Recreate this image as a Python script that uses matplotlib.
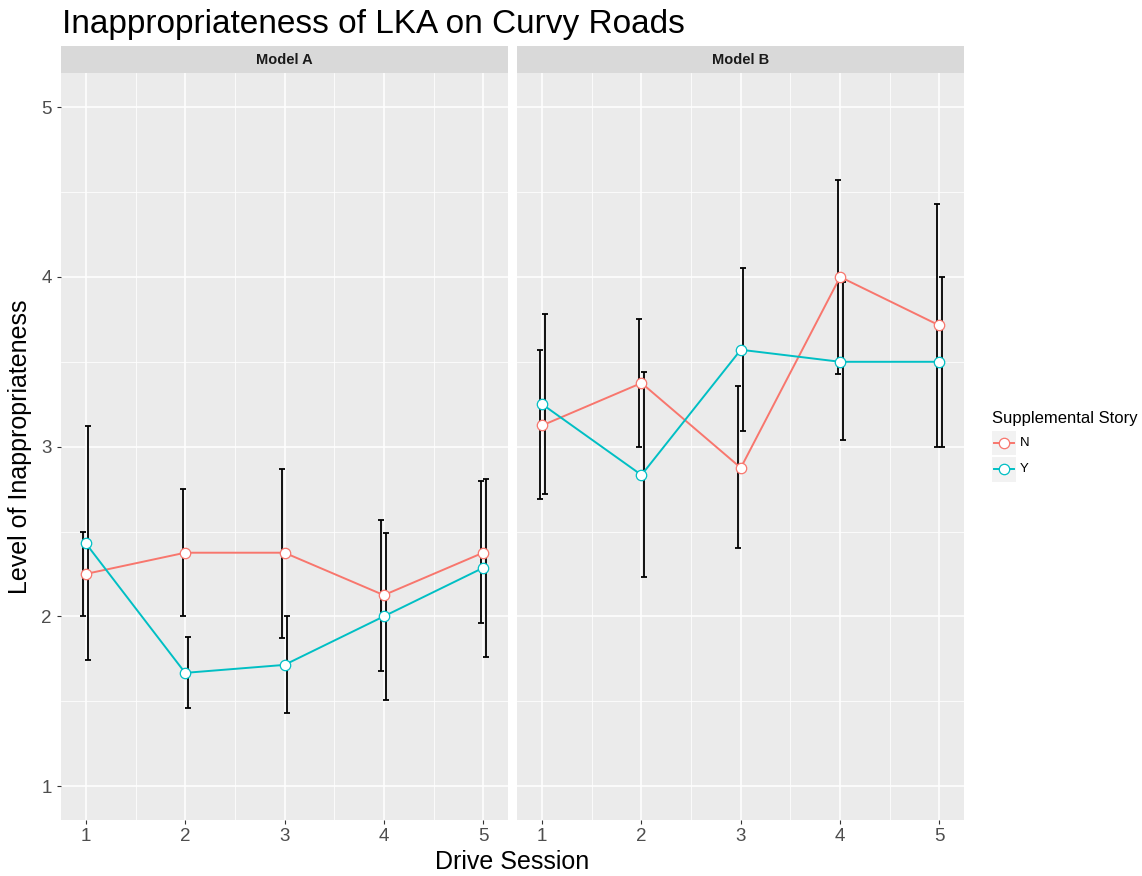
import matplotlib
matplotlib.use('Agg')
import matplotlib.pyplot as plt
from matplotlib.patches import Rectangle
from matplotlib.lines import Line2D
import numpy as np

plt.rcParams['font.family'] = ['Liberation Sans', 'DejaVu Sans']

# ---------------- data ----------------
sessions = [1, 2, 3, 4, 5]
models = ['Model A', 'Model B']
groups = ['N', 'Y']
group_colors = ['#F8766D', '#00BFC4']

a_n_mean = [2.25, 2.375, 2.375, 2.125, 2.375]
a_n_low = [2.0, 2.0, 1.875, 1.68, 1.96]
a_n_high = [2.5, 2.75, 2.87, 2.57, 2.80]
a_y_mean = [2.43, 1.667, 1.714, 2.0, 2.286]
a_y_low = [1.74, 1.46, 1.43, 1.51, 1.76]
a_y_high = [3.12, 1.88, 2.0, 2.49, 2.81]

b_n_mean = [3.125, 3.375, 2.875, 4.0, 3.714]
b_n_low = [2.69, 3.0, 2.40, 3.43, 3.0]
b_n_high = [3.57, 3.75, 3.36, 4.57, 4.43]
b_y_mean = [3.25, 2.833, 3.571, 3.5, 3.5]
b_y_low = [2.72, 2.23, 3.09, 3.04, 3.0]
b_y_high = [3.78, 3.44, 4.05, 3.97, 4.0]

y_ticks = [1, 2, 3, 4, 5]
title = 'Inappropriateness of LKA on Curvy Roads'
x_label = 'Drive Session'
y_label = 'Level of Inappropriateness'
legend_title = 'Supplemental Story'

panel_data = {
    'Model A': {'N': (a_n_mean, a_n_low, a_n_high), 'Y': (a_y_mean, a_y_low, a_y_high)},
    'Model B': {'N': (b_n_mean, b_n_low, b_n_high), 'Y': (b_y_mean, b_y_low, b_y_high)},
}

# ---------------- layout ----------------
W, H = 1142, 876
fig = plt.figure(figsize=(W / 100, H / 100), dpi=100)

def fx(px):
    return px / W

def fy(py):
    return 1 - py / H

panels_px = [(61, 508), (517.3, 964.3)]
p_top, p_bottom, s_top = 73.3, 820, 45.7
dodge = [-0.025, 0.025]

for i, (model, (l, r)) in enumerate(zip(models, panels_px)):
    ax = fig.add_axes([fx(l), fy(p_bottom), (r - l) / W, (p_bottom - p_top) / H])
    ax.set_facecolor('#EBEBEB')
    for s in ax.spines.values():
        s.set_visible(False)
    ax.set_xlim(0.75, 5.25)
    ax.set_ylim(0.8, 5.2)
    ax.set_xticks(sessions)
    ax.set_xticks([1.5, 2.5, 3.5, 4.5], minor=True)
    ax.set_yticks(y_ticks)
    ax.set_yticks([1.5, 2.5, 3.5, 4.5], minor=True)
    ax.grid(which='major', color='white', lw=1.1)
    ax.grid(which='minor', color='white', lw=0.55)
    ax.set_axisbelow(True)
    ax.tick_params(which='minor', length=0)
    ax.tick_params(which='major', length=2.75, width=0.8, color='#333333',
                   labelcolor='#4D4D4D', labelsize=13.5)
    ax.tick_params(axis='x', pad=3)
    ax.tick_params(axis='y', pad=4)
    if i == 1:
        ax.tick_params(axis='y', left=False, labelleft=False)

    x = np.array(sessions, dtype=float)
    for g, col, off in zip(groups, group_colors, dodge):
        mean, low, high = (np.array(v) for v in panel_data[model][g])
        ax.errorbar(x + off, mean, yerr=[mean - low, high - mean], fmt='none',
                    ecolor='black', elinewidth=1.3, capsize=2, capthick=1.3, zorder=2)
        ax.plot(x, mean, color=col, lw=1.4, zorder=3)
        ax.plot(x, mean, 'o', ms=7.5, mfc='white', mec=col, mew=0.9, zorder=4)

    sax = fig.add_axes([fx(l), fy(p_top), (r - l) / W, (p_top - s_top) / H])
    sax.set_facecolor('#D9D9D9')
    sax.set_xticks([])
    sax.set_yticks([])
    for s in sax.spines.values():
        s.set_visible(False)
    sax.text(0.5, 0.5, model, ha='center', va='center', fontsize=10.5,
             fontweight='bold', color='#1A1A1A', transform=sax.transAxes)

# titles
fig.text(fx(61.7), fy(33), title, fontsize=24, ha='left', va='baseline', color='black')
fig.text(fx(512.5), fy(869), x_label, fontsize=18, ha='center', va='baseline', color='black')
fig.text(fx(20), fy((p_top + p_bottom) / 2), y_label, fontsize=18, rotation=90,
         ha='center', va='center', color='black')

# legend (manual, ggplot style)
lax = fig.add_axes([0, 0, 1, 1])
lax.set_xlim(0, W)
lax.set_ylim(H, 0)
lax.axis('off')
lax.text(991.7, 423.3, legend_title, fontsize=12, ha='left', va='baseline', color='black')
key_y = [430.7, 457.3]
for g, col, ky in zip(groups, group_colors, key_y):
    lax.add_patch(Rectangle((991.7, ky), 24, 24.3, facecolor='#F2F2F2', edgecolor='none'))
    cy = ky + 12.15
    lax.add_line(Line2D([993.5, 1013.9], [cy, cy], color=col, lw=1.4))
    lax.add_line(Line2D([1003.7], [cy], marker='o', ms=7.5, mfc='white', mec=col, mew=0.9))
    lax.text(1020, cy, g, fontsize=9.5, ha='left', va='center', color='black')

fig.savefig('out.png', dpi=100)
